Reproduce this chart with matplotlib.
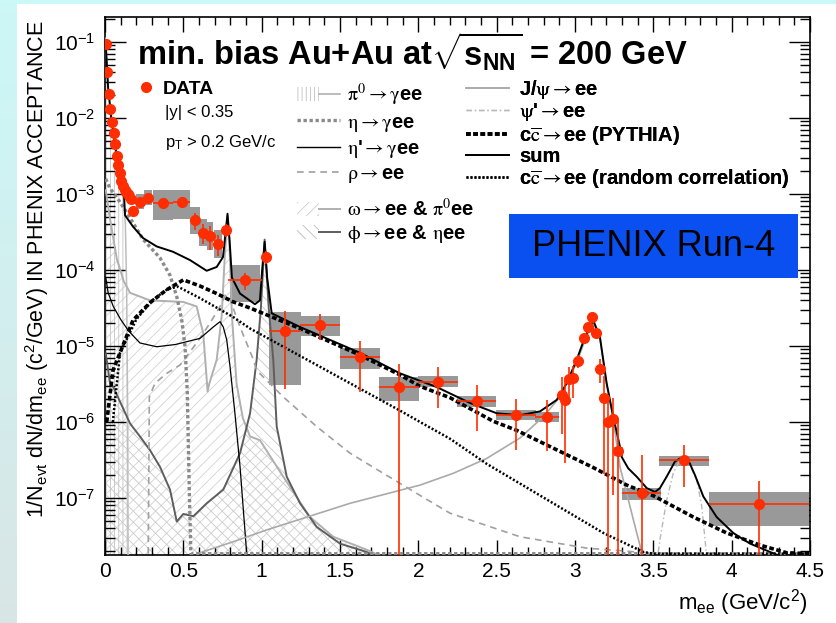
import numpy as np
import matplotlib
matplotlib.use("Agg")
import matplotlib.pyplot as plt
from matplotlib.lines import Line2D
from matplotlib.patches import Patch, Rectangle
from matplotlib.legend_handler import HandlerTuple
from matplotlib.font_manager import FontProperties
from matplotlib.ticker import FixedLocator, LogFormatterMathtext, FuncFormatter, NullFormatter

plt.rcParams['font.family'] = ['Liberation Sans', 'DejaVu Sans']
plt.rcParams['mathtext.fontset'] = 'custom'
plt.rcParams['mathtext.rm'] = 'Liberation Sans'
plt.rcParams['mathtext.it'] = 'Liberation Sans:italic'
plt.rcParams['mathtext.bf'] = 'Liberation Sans:bold'
plt.rcParams['mathtext.sf'] = 'Liberation Sans'
plt.rcParams['hatch.linewidth'] = 0.6

# ---------------- data (m_ee in GeV/c^2, yield) ----------------
m_data = [0.005, 0.015, 0.025, 0.035, 0.045, 0.055, 0.065, 0.075, 0.085, 0.095,
          0.105, 0.115, 0.125, 0.135, 0.145, 0.155, 0.165, 0.18, 0.225, 0.275,
          0.37, 0.49, 0.575, 0.627, 0.67, 0.72, 0.77, 0.894, 1.025,
          1.149, 1.372, 1.628, 1.877, 2.125, 2.372, 2.623, 2.82,
          2.915, 2.936, 2.964, 2.99, 3.02, 3.06, 3.085, 3.11, 3.137, 3.16, 3.185,
          3.21, 3.24, 3.277, 3.425, 3.696, 4.174]
y_data = [0.093, 0.040, 0.021, 0.0132, 0.0089, 0.0063, 0.0045, 0.0032, 0.0024, 0.0019,
          0.0015, 0.00126, 0.00112, 0.00105, 0.0010, 0.00093, 0.00087, 0.00060, 0.00079, 0.00089,
          0.00076, 0.00078, 0.00045, 0.00031, 0.00028, 0.00022, 0.00034, 7.3e-5, 1.5e-4,
          1.58e-5, 1.9e-5, 7.1e-6, 2.9e-6, 3.4e-6, 1.9e-6, 1.23e-6, 1.17e-6,
          2.3e-6, 1.95e-6, 3.7e-6, 3.8e-6, 6.4e-6, 1.28e-5, 1.8e-5, 2.4e-5, 1.5e-5, 5.0e-6, 2.1e-6,
          1.0e-6, 1.1e-6, 4.1e-7, 1.15e-7, 3.2e-7, 8.3e-8]
x_err = [0, 0, 0, 0, 0, 0, 0, 0, 0, 0,
         0, 0, 0, 0, 0, 0, 0, 0, 0, 0,
         0.065, 0.055, 0, 0, 0, 0, 0, 0.11, 0,
         0.10, 0.125, 0.125, 0.125, 0.125, 0.125, 0.125, 0.075,
         0, 0, 0, 0, 0, 0, 0, 0, 0, 0, 0,
         0, 0, 0, 0.125, 0.16, 0.32]
yerr_frac = [0.05, 0.05, 0.05, 0.05, 0.05, 0.05, 0.05, 0.05, 0.05, 0.05,
             0.08, 0.08, 0.08, 0.08, 0.08, 0.08, 0.08, 0.15, 0.10, 0.10,
             0.12, 0.12, 0.25, 0.30, 0.35, 0.30, 0.20, 0.25, 0.20,
             0.83, 0.37, 0.65, 1.0, 0.55, 0.60, 0.65, 0.65,
             0.70, 0.85, 0.45, 0.45, 0.20, 0.12, 0.10, 0.10, 0.10, 0.35, 0.90,
             1.2, 0.90, 1.6, 2.2, 0.56, 1.0]
# systematic boxes: half width (GeV), down / up (decades)
sys_hw = [0, 0, 0, 0, 0, 0, 0, 0, 0, 0,
          0, 0, 0, 0, 0, 0, 0, 0, 0.025, 0.025,
          0.065, 0.055, 0.03, 0.025, 0.02, 0.025, 0, 0.095, 0,
          0.10, 0.125, 0.125, 0.125, 0.125, 0.125, 0.125, 0.075,
          0, 0, 0, 0, 0, 0, 0, 0, 0, 0, 0,
          0, 0, 0.03, 0.125, 0.16, 0.32]
sys_dn = [0, 0, 0, 0, 0, 0, 0, 0, 0, 0,
          0, 0, 0, 0, 0, 0, 0, 0, 0.10, 0.10,
          0.22, 0.22, 0.18, 0.18, 0.18, 0.18, 0, 0.29, 0,
          0.71, 0.15, 0.15, 0.18, 0.075, 0.08, 0.07, 0.065,
          0, 0, 0, 0, 0, 0, 0, 0, 0, 0, 0,
          0, 0, 0.06, 0.09, 0.09, 0.29]
sys_up = [0, 0, 0, 0, 0, 0, 0, 0, 0, 0,
          0, 0, 0, 0, 0, 0, 0, 0, 0.10, 0.10,
          0.17, 0.16, 0.18, 0.18, 0.18, 0.18, 0, 0.20, 0,
          0.25, 0.12, 0.12, 0.13, 0.075, 0.06, 0.07, 0.065,
          0, 0, 0, 0, 0, 0, 0, 0, 0, 0, 0,
          0, 0, 0.06, 0.07, 0.05, 0.16]

# ---------------- cocktail curves (m, log10 yield) ----------------
pi0_m = [0.0, 0.005, 0.02, 0.04, 0.06, 0.08, 0.10, 0.12, 0.13, 0.138, 0.145, 0.148]
pi0_logy = [-0.95, -1.03, -1.6, -2.0, -2.3, -2.55, -2.8, -3.1, -3.4, -4.2, -6.0, -8.5]

eta_m = [0.005, 0.03, 0.06, 0.10, 0.15, 0.244, 0.351, 0.415, 0.458, 0.49, 0.511, 0.525, 0.538, 0.548, 0.56, 4.5]
eta_logy = [-2.8, -2.92, -3.0, -3.12, -3.28, -3.6, -3.84, -4.07, -4.35, -4.66, -5.01, -5.6, -6.9, -7.8, -9, -9]

etap_m = [0.005, 0.02, 0.053, 0.1, 0.15, 0.223, 0.33, 0.45, 0.606, 0.691, 0.734, 0.755, 0.777, 0.798, 0.83, 0.862, 0.904, 0.92]
etap_logy = [-4.1, -4.3, -4.48, -4.65, -4.8, -4.96, -5.01, -4.98, -4.90, -4.75, -4.68, -4.75, -4.92, -5.27, -5.9, -6.59, -7.72, -8.5]

rho_m = [0.276, 0.283, 0.319, 0.394, 0.479, 0.585, 0.670, 0.734, 0.77, 0.80, 0.862, 0.947, 0.968, 1.138,
         1.351, 1.564, 1.776, 1.99, 2.202, 2.649, 3.075, 3.394, 3.6, 4.5]
rho_logy = [-8.5, -5.67, -5.49, -5.36, -5.25, -4.96, -4.70, -4.48, -4.32, -4.4, -4.75, -5.18, -5.32, -5.67,
            -6.06, -6.41, -6.675, -6.94, -7.20, -7.51, -7.66, -7.71, -9, -9]

omega_m = [0.005, 0.03, 0.075, 0.12, 0.16, 0.287, 0.5, 0.585, 0.606, 0.627, 0.655, 0.665, 0.713, 0.745,
           0.765, 0.782, 0.795, 0.81, 0.84, 0.88, 0.926, 0.989, 1.138, 1.308, 1.457, 1.67, 1.8]
omega_logy = [-2.95, -3.3, -3.85, -4.15, -4.3, -4.40, -4.42, -4.48, -4.66, -4.83, -5.6, -5.5, -5.18, -4.6,
              -3.8, -3.3, -3.7, -4.6, -5.5, -5.95, -6.19, -6.24, -6.72, -7.25, -7.51, -7.68, -7.8]

phi_m = [0.005, 0.032, 0.053, 0.16, 0.223, 0.287, 0.351, 0.415, 0.458, 0.5, 0.564, 0.649, 0.755, 0.862,
         0.926, 0.968, 0.995, 1.019, 1.045, 1.074, 1.096, 1.16, 1.245, 1.351, 1.5, 1.67, 1.8]
phi_logy = [-5.1, -5.49, -5.54, -6.02, -6.19, -6.37, -6.59, -6.89, -7.31, -7.21, -7.24, -7.07, -6.89, -6.41,
            -5.885, -5.18, -4.5, -3.6, -4.5, -5.18, -6.06, -6.72, -7.07, -7.38, -7.6, -7.71, -7.85]

jpsi_m = [0.585, 0.606, 0.819, 1.032, 1.564, 2.011, 2.223, 2.436, 2.649, 2.798, 2.904, 3.011, 3.064, 3.106,
          3.12, 3.159, 3.202, 3.244, 3.287, 3.351, 3.394, 3.426, 3.45]
jpsi_logy = [-7.76, -7.72, -7.575, -7.42, -7.07, -6.83, -6.675, -6.48, -6.21, -5.93, -5.67, -5.22, -4.92, -4.73,
             -4.71, -4.9, -5.5, -5.97, -6.59, -7.11, -7.46, -7.71, -8.2]

psip_m = [3.50, 3.542, 3.585, 3.627, 3.67, 3.713, 3.777, 3.809, 3.83, 3.86]
psip_logy = [-8.2, -7.55, -7.03, -6.675, -6.5, -6.48, -6.76, -7.11, -7.55, -8.2]

ccbar_m = [0.011, 0.051, 0.179, 0.287, 0.394, 0.5, 0.606, 0.713, 0.819, 0.926, 1.032, 1.245, 1.628, 1.883,
           2.011, 2.202, 2.478, 2.628, 2.947, 3.117, 3.33, 3.5, 3.755, 3.968, 4.181, 4.35, 4.5]
ccbar_logy = [-6.0, -5.32, -4.66, -4.43, -4.26, -4.13, -4.21, -4.31, -4.42, -4.50, -4.59, -4.77, -5.12, -5.38,
              -5.53, -5.68, -5.99, -6.11, -6.43, -6.60, -6.83, -6.97, -7.25, -7.46, -7.62, -7.72, -8.0]

random_m = [0.05, 0.096, 0.2, 0.3, 0.4, 0.466, 0.606, 0.819, 0.926, 1.245, 1.564, 1.883, 2.011, 2.202,
            2.436, 2.861, 3.181, 3.436, 3.5, 4.5]
random_logy = [-6.0, -5.09, -4.65, -4.4, -4.25, -4.22, -4.37, -4.62, -4.77, -5.13, -5.49, -5.85, -6.0, -6.22,
               -6.55, -7.07, -7.46, -7.71, -9, -9]

sum_m = [0.005, 0.02, 0.04, 0.06, 0.08, 0.10, 0.12, 0.128, 0.179, 0.243, 0.33, 0.434, 0.543, 0.649, 0.713,
         0.753, 0.77, 0.782, 0.795, 0.81, 0.862, 0.957, 0.989, 1.003, 1.019, 1.035, 1.064, 1.245, 1.628,
         1.883, 2.117, 2.33, 2.5, 2.649, 2.777, 2.883, 2.947, 3.011, 3.064, 3.106, 3.12, 3.159, 3.202,
         3.244, 3.287, 3.298, 3.34, 3.394, 3.458, 3.511, 3.542, 3.585, 3.638, 3.67, 3.723, 3.766, 3.819,
         3.904, 4.01, 4.117, 4.245, 4.35]
sum_logy = [-1.03, -1.6, -2.0, -2.3, -2.55, -2.78, -2.95, -3.28, -3.43, -3.58, -3.69, -3.76, -3.87, -4.01, -3.96,
            -3.83, -3.5, -3.26, -3.6, -4.1, -4.31, -4.45, -4.40, -4.0, -3.63, -4.1, -4.57, -4.75, -5.09,
            -5.36, -5.54, -5.75, -5.885, -5.91, -5.86, -5.71, -5.49, -5.18, -4.88, -4.70, -4.68, -4.88, -5.49,
            -5.93, -6.325, -6.46, -6.61, -6.72, -6.87, -6.92, -6.87, -6.72, -6.52, -6.48, -6.5, -6.70, -6.98,
            -7.25, -7.46, -7.60, -7.71, -7.8]

x_ticks = [0, 0.5, 1, 1.5, 2, 2.5, 3, 3.5, 4, 4.5]
y_decades = [-7, -6, -5, -4, -3, -2, -1]

# ---------------- figure ----------------
W, H = 836, 623
fig = plt.figure(figsize=(W / 100, H / 100), dpi=100)
fig.patch.set_facecolor('white')

bg = fig.add_axes([0, 0, 1, 1], zorder=-10)
bg.set_xlim(0, 1); bg.set_ylim(0, 1); bg.axis('off')
grad = np.linspace(0, 1, 200)[:, None]
top_c = np.array([0.80, 0.97, 0.97]); bot_c = np.array([0.85, 0.90, 0.90])
img = (top_c[None, None, :] * (1 - grad[:, :, None]) + bot_c[None, None, :] * grad[:, :, None])
bg.imshow(img, extent=[0, 17 / W, 0, 1], aspect='auto')
bg.add_patch(Rectangle((0, 1 - 4 / H), 1, 4 / H, color='#cdf8f8', lw=0))

L, R, T, B = 105, 810, 17, 555
ax = fig.add_axes([L / W, (H - B) / H, (R - L) / W, (B - T) / H])

def ax_x(px):
    return (px - L) / (R - L)

def ax_y(py):
    return (B - py) / (B - T)

ymin, ymax = 10 ** -7.75, 10 ** -0.671
ax.set_xlim(0, 4.5)
ax.set_yscale('log')
ax.set_ylim(ymin, ymax)
floor = ymin * 1.04

def Y(lst):
    return 10.0 ** np.asarray(lst)

# hatched fills
ax.fill_between(omega_m, ymin, np.maximum(Y(omega_logy), ymin), facecolor='none', edgecolor='#d2d2d2',
                hatch='///', linewidth=0, zorder=1)
ax.fill_between(phi_m, ymin, np.maximum(Y(phi_logy), ymin), facecolor='none', edgecolor='#c8c8c8',
                hatch='\\\\\\', linewidth=0, zorder=1)
ax.fill_between(pi0_m, ymin, np.maximum(Y(pi0_logy), ymin), facecolor='none', edgecolor='#c4c4c4',
                hatch='||||', linewidth=0, zorder=1)

# systematic boxes
m_arr = np.array(m_data); y_arr = np.array(y_data)
hw = np.array(sys_hw); dn = np.array(sys_dn); up = np.array(sys_up)
mask = hw > 0
lo_b = y_arr[mask] * 10 ** (-dn[mask]); hi_b = y_arr[mask] * 10 ** (up[mask])
ax.bar(m_arr[mask], hi_b - lo_b, bottom=lo_b, width=2 * hw[mask], color='#999999', linewidth=0, zorder=2)

# curves
ax.plot(pi0_m, Y(pi0_logy), color='#bdbdbd', lw=1.1, zorder=3)
ax.plot(omega_m, Y(omega_logy), color='#b0b0b0', lw=1.4, zorder=3)
ax.plot(phi_m, Y(phi_logy), color='#5e5e5e', lw=1.4, zorder=3)
ax.plot(rho_m, np.maximum(Y(rho_logy), floor), color='#a0a0a0', lw=1.2, ls=(0, (4, 3)), zorder=3)
ax.plot(etap_m, Y(etap_logy), color='black', lw=0.9, zorder=3)
ax.plot(jpsi_m, Y(jpsi_logy), color='#aaaaaa', lw=1.2, zorder=3)
ax.plot(psip_m, Y(psip_logy), color='#b8b8b8', lw=1.0, ls=(0, (4, 2, 1, 2)), zorder=3)
ax.plot(eta_m, np.maximum(Y(eta_logy), floor), color='#8a8a8a', lw=2.4, ls=(0, (1, 0.8)), zorder=3)
ax.plot(random_m, np.maximum(Y(random_logy), floor), color='black', lw=1.8, ls=(0, (0.8, 0.8)), zorder=3)
ax.plot(ccbar_m, np.maximum(Y(ccbar_logy), floor), color='black', lw=2.6, ls=(0, (1.3, 0.7)), zorder=3)
ax.plot(sum_m, Y(sum_logy), color='black', lw=1.4, zorder=4)

# data
red = '#ff2d00'
f = np.array(yerr_frac)
err_hi = y_arr * f
err_lo = np.where(f >= 1, y_arr - ymin * 1.001, y_arr * f)
ax.errorbar(m_data, y_data, xerr=x_err, yerr=[err_lo, err_hi], fmt='o', ms=7, color=red,
            ecolor=red, elinewidth=1.2, capsize=0, zorder=6)

# axes styling
ax.xaxis.set_major_locator(FixedLocator(x_ticks))
ax.xaxis.set_minor_locator(FixedLocator([v / 10 for v in range(0, 46) if v % 5]))
ax.xaxis.set_major_formatter(FuncFormatter(lambda v, p: f"{v:g}"))
ax.yaxis.set_major_locator(FixedLocator([10.0 ** d for d in y_decades]))
minor_y = [k * 10.0 ** d for d in range(-8, 0) for k in range(2, 10)]
minor_y = [v for v in minor_y if ymin <= v <= ymax]
ax.yaxis.set_minor_locator(FixedLocator(minor_y))
ax.yaxis.set_major_formatter(LogFormatterMathtext())
ax.yaxis.set_minor_formatter(NullFormatter())
ax.tick_params(which='both', direction='in', top=True, right=True, width=1.0)
ax.tick_params(axis='x', which='major', length=11, pad=5, labelsize=15)
ax.tick_params(axis='x', which='minor', length=5.5)
ax.tick_params(axis='y', which='major', length=15, pad=7, labelsize=15)
ax.tick_params(axis='y', which='minor', length=7.5)
for s in ax.spines.values():
    s.set_linewidth(1.2)

ax.text(ax_x(37), ax_y(20), r"1/N$_{\rm evt}$ dN/dm$_{\rm ee}$ (c$^{2}$/GeV) IN PHENIX ACCEPTANCE",
        transform=ax.transAxes, fontsize=15.5, rotation=90, ha='center', va='top')
ax.set_xlabel(r"m$_{\rm ee}$ (GeV/c$^{2}$)", fontsize=16, loc='right')
ax.xaxis.set_label_coords(ax_x(808), ax_y(587))

# title
ax.text(ax_x(137), ax_y(65), r"min. bias Au+Au at$\sqrt{\mathbf{s}_{\mathbf{NN}}}$ = 200 GeV",
        transform=ax.transAxes, fontsize=23.5, fontweight='bold', ha='left', va='baseline', zorder=8)

# DATA legend
leg1 = ax.legend(handles=[Line2D([], [], ls='none', marker='o', ms=7, color=red)], labels=['DATA'],
                 loc='center left', bbox_to_anchor=(ax_x(138), ax_y(89)),
                 prop=FontProperties(family='Liberation Sans', weight='bold', size=14),
                 frameon=False, borderpad=0, borderaxespad=0, handlelength=0.8, handletextpad=0.45)
ax.add_artist(leg1)
ax.text(ax_x(165), ax_y(117), "|y| < 0.35", transform=ax.transAxes, fontsize=12, va='baseline')
ax.text(ax_x(165), ax_y(147), r"p$_{\rm T}$ > 0.2 GeV/c", transform=ax.transAxes, fontsize=12, va='baseline')

legprop = FontProperties(family='Liberation Sans', weight='bold', size=14.5, math_fontfamily='stix')
tuple_map = {tuple: HandlerTuple(ndivide=None)}
h_mid_a = [
    (Patch(facecolor='none', edgecolor='#c0c0c0', hatch='||||', lw=0), Line2D([], [], color='#b0b0b0', lw=1.2)),
    Line2D([], [], color='#8a8a8a', lw=2.4, ls=(0, (1, 0.8))),
    Line2D([], [], color='black', lw=1.0),
    Line2D([], [], color='#a0a0a0', lw=1.2, ls=(0, (4, 3))),
]
l_mid_a = [r"$\mathrm{\pi}^0\rightarrow\mathrm{\gamma}$ee",
           r"$\mathrm{\eta}\rightarrow\mathrm{\gamma}$ee",
           r"$\mathrm{\eta}$'$\rightarrow\mathrm{\gamma}$ee",
           r"$\mathrm{\rho}\rightarrow$ee"]
h_mid_b = [
    (Patch(facecolor='none', edgecolor='#cccccc', hatch='///', lw=0), Line2D([], [], color='#b0b0b0', lw=1.4)),
    (Patch(facecolor='none', edgecolor='#bbbbbb', hatch='\\\\\\', lw=0), Line2D([], [], color='#5e5e5e', lw=1.4)),
]
l_mid_b = [r"$\mathrm{\omega}\rightarrow$ee & $\mathrm{\pi}^0$ee",
           r"$\mathrm{\phi}\rightarrow$ee & $\mathrm{\eta}$ee"]
leg2a = ax.legend(handles=h_mid_a, labels=l_mid_a, loc='upper left', bbox_to_anchor=(ax_x(297), ax_y(82)),
                  prop=legprop, frameon=False, borderpad=0, borderaxespad=0, handlelength=2.15,
                  handletextpad=0.35, labelspacing=0.22, handler_map=tuple_map)
ax.add_artist(leg2a)
leg2b = ax.legend(handles=h_mid_b, labels=l_mid_b, loc='upper left', bbox_to_anchor=(ax_x(297), ax_y(198)),
                  prop=legprop, frameon=False, borderpad=0, borderaxespad=0, handlelength=2.15,
                  handletextpad=0.35, labelspacing=0.15, handler_map=tuple_map)
ax.add_artist(leg2b)

h_right = [
    Line2D([], [], color='#aaaaaa', lw=1.2),
    Line2D([], [], color='#b8b8b8', lw=1.0, ls=(0, (4, 2, 1, 2))),
    Line2D([], [], color='black', lw=2.6, ls=(0, (1.3, 0.7))),
    Line2D([], [], color='black', lw=1.4),
    Line2D([], [], color='black', lw=1.8, ls=(0, (0.8, 0.8))),
]
l_right = [r"J/$\mathrm{\psi}\rightarrow$ee", r"$\mathrm{\psi}$'$\rightarrow$ee",
           r"c$\overline{\rm c}\rightarrow$ee (PYTHIA)",
           "sum", r"c$\overline{\rm c}\rightarrow$ee (random correlation)"]
leg3 = ax.legend(handles=h_right, labels=l_right, loc='upper left', bbox_to_anchor=(ax_x(466), ax_y(78)),
                 prop=legprop, frameon=False, borderpad=0, borderaxespad=0, handlelength=2.15,
                 handletextpad=0.5, labelspacing=0.02)
ax.add_artist(leg3)

# PHENIX Run-4 box
ax.add_patch(Rectangle((ax_x(509), ax_y(278)), 289 / (R - L), 64 / (B - T), transform=ax.transAxes,
                       facecolor='#0a50f0', edgecolor='none', zorder=9))
ax.text(ax_x(653.5), ax_y(246), "PHENIX Run-4", transform=ax.transAxes, fontsize=26, color='black',
        ha='center', va='center', zorder=10)

fig.savefig('out.png', dpi=100)
